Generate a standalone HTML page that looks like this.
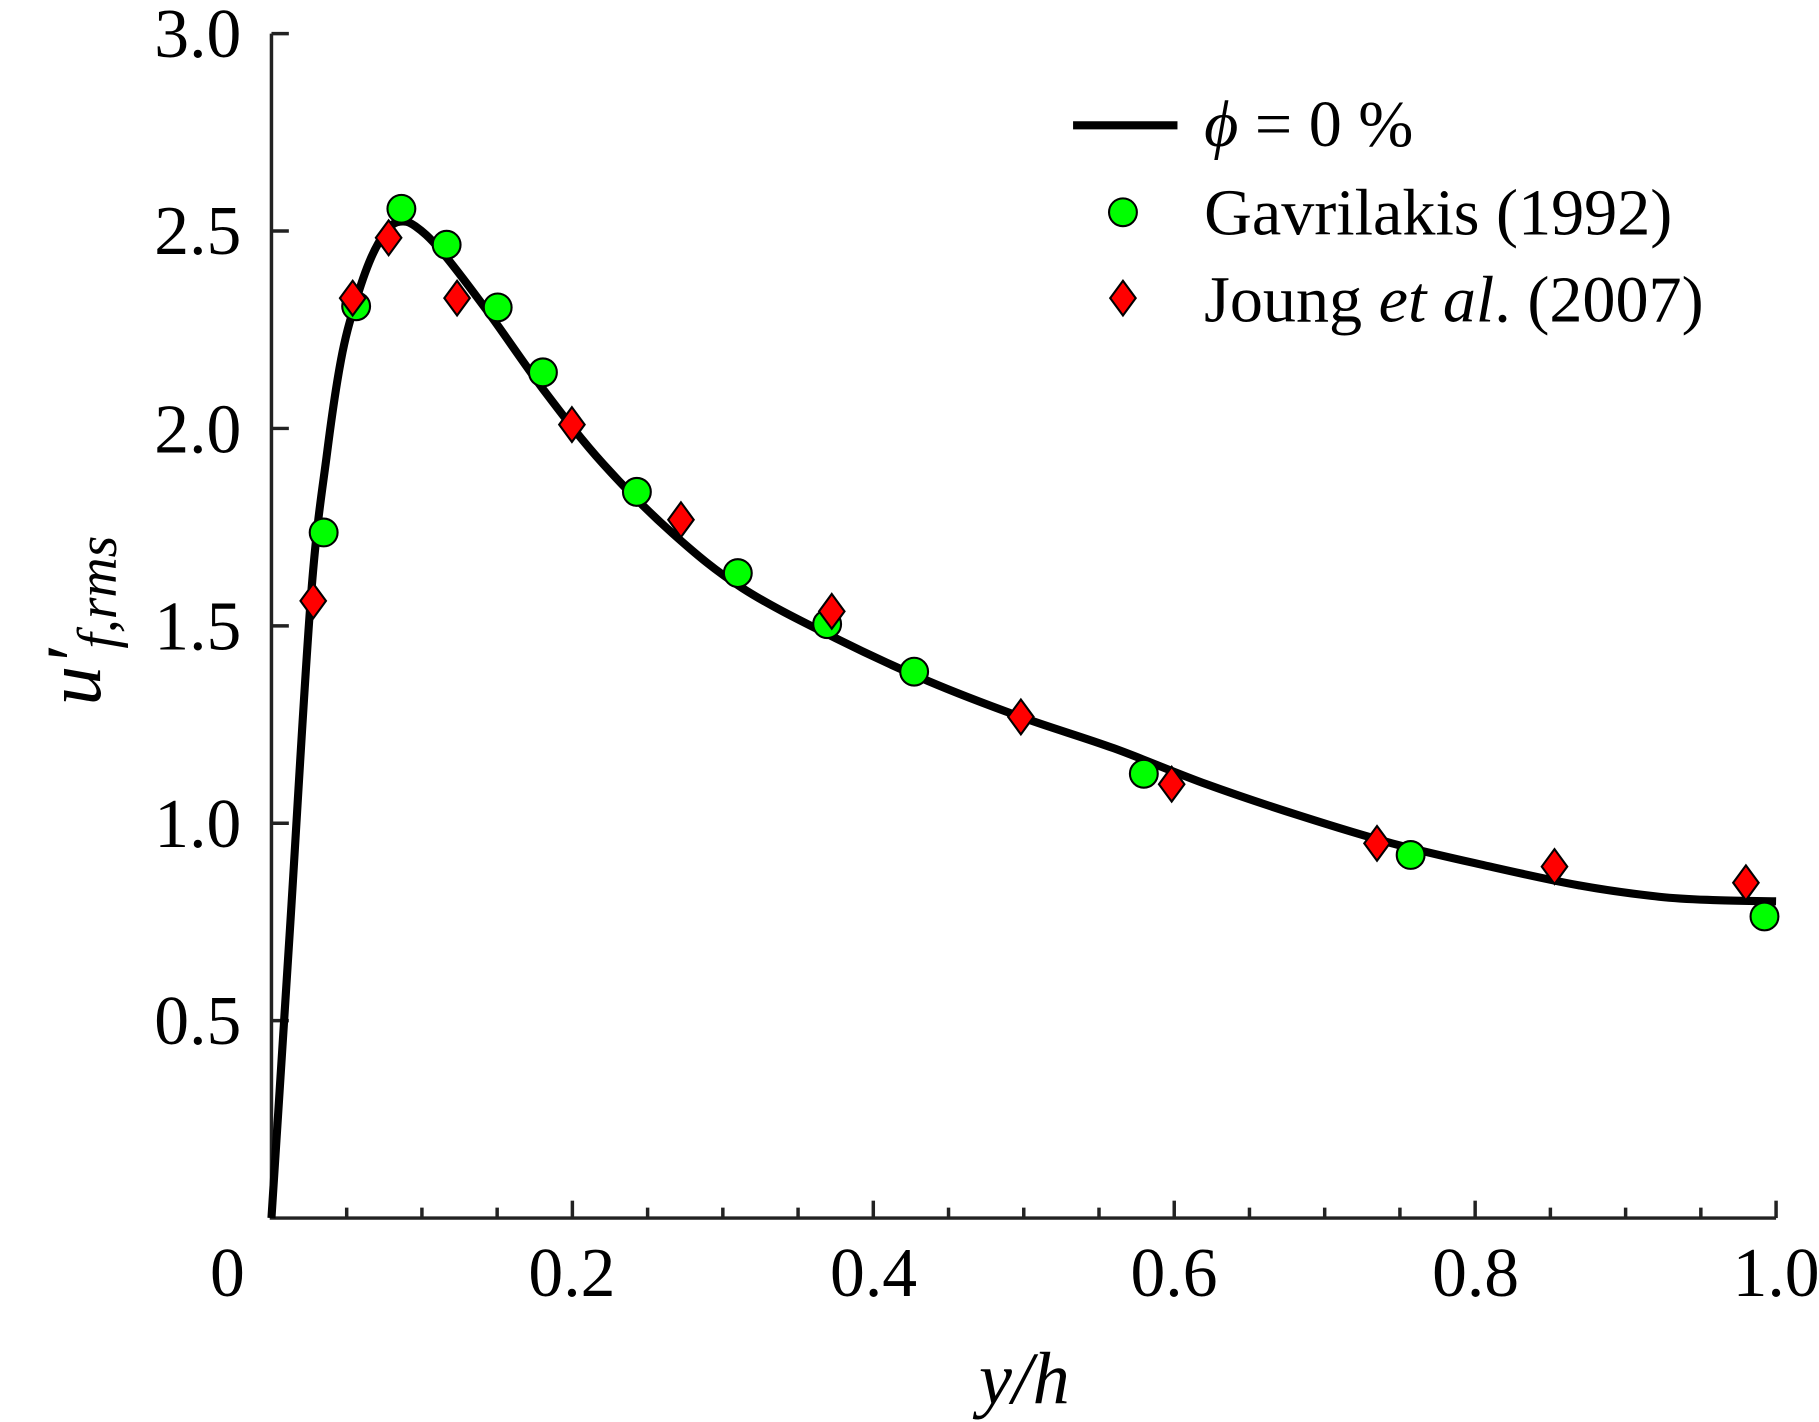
<!DOCTYPE html>
<html><head><meta charset="utf-8"><style>
html,body{margin:0;padding:0;background:#fff;}
svg{display:block;}
text{font-family:"Liberation Serif",serif;fill:#000;}
</style></head><body>
<svg id="s" width="1819" height="1422" viewBox="0 0 1568 1225.8" preserveAspectRatio="none" xmlns="http://www.w3.org/2000/svg">
<g id="axes" stroke="#222" stroke-width="3" fill="none">
<path d="M234,29 L234,1050 L1531,1050"/>
</g>
<g id="ticks" stroke="#222" stroke-width="3"></g>
<g font-size="60">
<text x="208" y="49" text-anchor="end">3.0</text>
<text x="208" y="219" text-anchor="end">2.5</text>
<text x="208" y="390" text-anchor="end">2.0</text>
<text x="208" y="560" text-anchor="end">1.5</text>
<text x="208" y="730" text-anchor="end">1.0</text>
<text x="208" y="900" text-anchor="end">0.5</text>
<text x="196" y="1117" text-anchor="middle">0</text>
<text x="493" y="1117" text-anchor="middle">0.2</text>
<text x="753" y="1117" text-anchor="middle">0.4</text>
<text x="1012" y="1117" text-anchor="middle">0.6</text>
<text x="1272" y="1117" text-anchor="middle">0.8</text>
<text x="1531" y="1117" text-anchor="middle">1.0</text>
</g>
<text x="883" y="1210" font-size="64" text-anchor="middle" font-style="italic">y/h</text>
<text transform="translate(86,608) rotate(-90)" font-size="68" font-style="italic">u′<tspan font-size="48" dy="14">f,rms</tspan></text>
<path id="curve" fill="none" stroke="#000" stroke-width="7"/>
<g id="pts" stroke="#000" stroke-width="1.8"></g>
<line x1="925" y1="108" x2="1015" y2="108" stroke="#000" stroke-width="7"/>
<circle cx="968" cy="183" r="12" fill="#00ff00" stroke="#000" stroke-width="1.8"/>
<path d="M968,242 L979,257 L968,272 L957,257 Z" fill="#ff0000" stroke="#000" stroke-width="1.8"/>
<g font-size="57">
<text x="1038" y="126"><tspan font-style="italic">ϕ</tspan> = 0 %</text>
<text x="1038" y="202">Gavrilakis (1992)</text>
<text x="1038" y="277">Joung <tspan font-style="italic">et al</tspan>. (2007)</text>
</g>
</svg>
<script>
var NS="http://www.w3.org/2000/svg";
var t=document.getElementById('ticks');
function ln(x1,y1,x2,y2){var l=document.createElementNS(NS,'line');l.setAttribute('x1',x1);l.setAttribute('y1',y1);l.setAttribute('x2',x2);l.setAttribute('y2',y2);t.appendChild(l);}
for(var i=1;i<=20;i++){var x=234+i*1297/20;var L=(i%4==0)?15:9;ln(x,1050,x,1050-L);}
for(var j=1;j<=6;j++){var y=1050-j*170.17;ln(234,y,249,y);}
var P=[[234,1050],[250,800],[268,515],[282,390],[294,310],[306,262],[320,222],[334,198],[345,191],[358,195],[380,216],[420,268],[470,338],[520,400],[580,460],[640,507],[720,550],[800,587],[880,618],[960,645],[1040,676],[1120,703],[1200,727],[1280,746],[1360,763],[1430,773],[1480,776],[1531,777]];
var d="M"+P[0][0]+","+P[0][1];
for(var k=0;k<P.length-1;k++){var p0=P[Math.max(k-1,0)],p1=P[k],p2=P[k+1],p3=P[Math.min(k+2,P.length-1)];
var c1=[p1[0]+(p2[0]-p0[0])/6,p1[1]+(p2[1]-p0[1])/6],c2=[p2[0]-(p3[0]-p1[0])/6,p2[1]-(p3[1]-p1[1])/6];
d+=" C"+c1+" "+c2+" "+p2;}
document.getElementById('curve').setAttribute('d',d);
var g=document.getElementById('pts');
var G=[[279,459],[307,264],[346,180],[385,211],[429,265],[468,321],[549,424],[636,494],[713,538],[788,579],[986,667],[1216,737],[1521,790]];
var R=[[270,518],[304,257],[335,205],[394,257],[493,366],[587,448],[717,527],[880,618],[1010,676],[1187,727],[1340,747],[1505,761]];
G.forEach(function(p){var c=document.createElementNS(NS,'circle');c.setAttribute('cx',p[0]);c.setAttribute('cy',p[1]);c.setAttribute('r',12);c.setAttribute('fill','#00ff00');g.appendChild(c);});
R.forEach(function(p){var c=document.createElementNS(NS,'path');var x=p[0],y=p[1];c.setAttribute('d','M'+x+','+(y-15)+' L'+(x+11)+','+y+' L'+x+','+(y+15)+' L'+(x-11)+','+y+' Z');c.setAttribute('fill','#ff0000');g.appendChild(c);});
</script>
</body></html>
